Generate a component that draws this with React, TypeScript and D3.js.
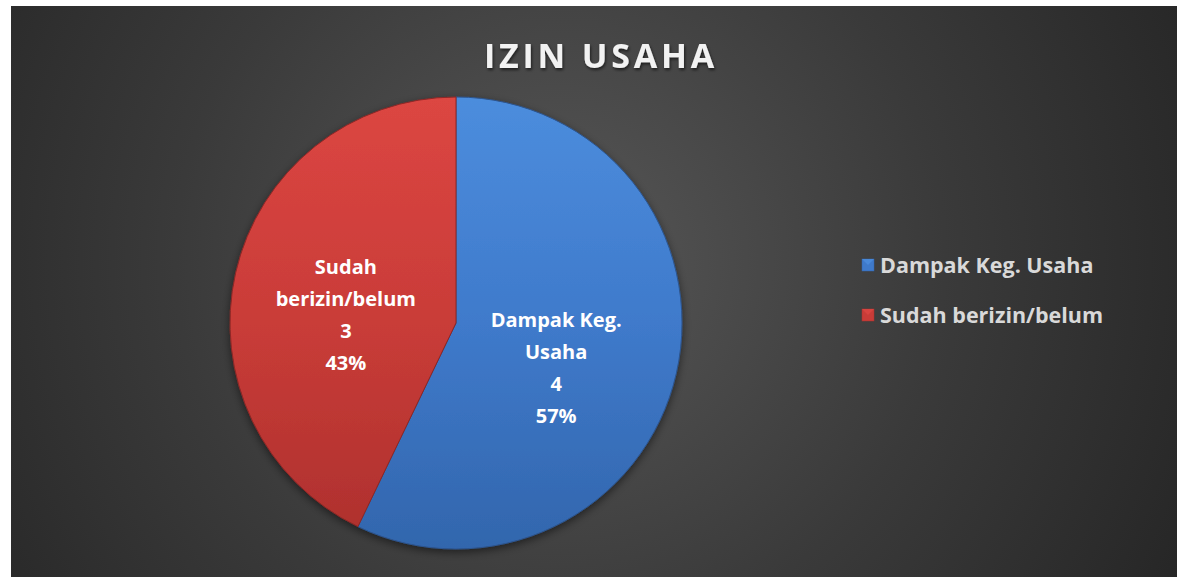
import React from "react";
import * as d3 from "d3";

const categories = ["Dampak Keg. Usaha", "Sudah berizin/belum"];
const labelLines = [["Dampak Keg.", "Usaha"], ["Sudah", "berizin/belum"]];
const values = [4, 3];
const title = "IZIN USAHA";

const W = 1177, H = 577;
const cx = 456, cy = 323, R = 226;
const FONT = "'Open Sans', Lato, sans-serif";

export default function App() {
  const total = d3.sum(values);
  const pie = d3.pie<number>().sort(null).value((d) => d)(values);
  const arc = d3.arc<d3.PieArcDatum<number>>().innerRadius(0).outerRadius(R);
  const labelArc = d3.arc<d3.PieArcDatum<number>>().innerRadius(R * 0.5).outerRadius(R * 0.5);
  const grads = [
    ["#4c8ddd", "#3f7acb", "#3266ad"],
    ["#dc4642", "#c93c38", "#ad302d"],
  ];
  const offs = [[-10, 20], [0, 17]];
  return (
    <svg width={W} height={H} style={{ position: "absolute", left: 0, top: 0 }}>
      <defs>
        <radialGradient id="bg" cx="560" cy="260" r="700" gradientUnits="userSpaceOnUse">
          <stop offset="0" stopColor="#575757" />
          <stop offset="0.55" stopColor="#3a3a3a" />
          <stop offset="1" stopColor="#262626" />
        </radialGradient>
        {grads.map((g, i) => (
          <linearGradient key={i} id={`g${i}`} x1="0" y1={-R} x2="0" y2={R} gradientUnits="userSpaceOnUse">
            <stop offset="0" stopColor={g[0]} />
            <stop offset="0.5" stopColor={g[1]} />
            <stop offset="1" stopColor={g[2]} />
          </linearGradient>
        ))}
        <filter id="sh" x="-20%" y="-20%" width="140%" height="140%">
          <feDropShadow dx="0" dy="3" stdDeviation="4" floodColor="#000" floodOpacity="0.5" />
        </filter>
        <filter id="tsh" x="-10%" y="-30%" width="120%" height="160%">
          <feDropShadow dx="1" dy="2" stdDeviation="1.5" floodColor="#000" floodOpacity="0.6" />
        </filter>
      </defs>
      <rect x={0} y={0} width={W} height={H} fill="#fff" />
      <rect x={11} y={6} width={W - 11} height={H - 6} fill="url(#bg)" />
      <text x={601} y={68} textAnchor="middle" fill="#f2f2f2" fontFamily={FONT} fontWeight={700}
        fontSize={34} letterSpacing={3.8} filter="url(#tsh)">{title}</text>
      <g transform={`translate(${cx},${cy})`} filter="url(#sh)">
        {pie.map((p, i) => (
          <path key={i} d={arc(p) || ""} fill={`url(#g${i})`}
            stroke={i === 0 ? "#2c5590" : "#8f2725"} strokeWidth={1} />
        ))}
      </g>
      <g transform={`translate(${cx},${cy})`}>
        {pie.map((p, i) => {
          const [lx, ly] = labelArc.centroid(p);
          const lines = [...labelLines[i], String(values[i]), `${Math.round((values[i] / total) * 100)}%`];
          const off = offs[i];
          return (
            <text key={i} textAnchor="middle" fill="#fff" fontFamily={FONT} fontWeight={700} fontSize={20}>
              {lines.map((l, j) => (
                <tspan key={j} x={lx + off[0]} y={ly + off[1] + (j - 1.5) * 32 + 7}>{l}</tspan>
              ))}
            </text>
          );
        })}
      </g>
      {categories.map((c, i) => (
        <g key={i} transform={`translate(862,${265 + i * 50})`}>
          <rect x={0} y={-6} width={12} height={12} fill={grads[i][1]} stroke={grads[i][2]} strokeWidth={0.5} />
          <path d="M0,-6 L6,0 L12,-6 Z" fill={grads[i][0]} opacity={0.8} />
          <text x={18} y={8} fill="#d9d9d9" fontFamily={FONT} fontWeight={700} fontSize={21.5}>{c}</text>
        </g>
      ))}
    </svg>
  );
}
